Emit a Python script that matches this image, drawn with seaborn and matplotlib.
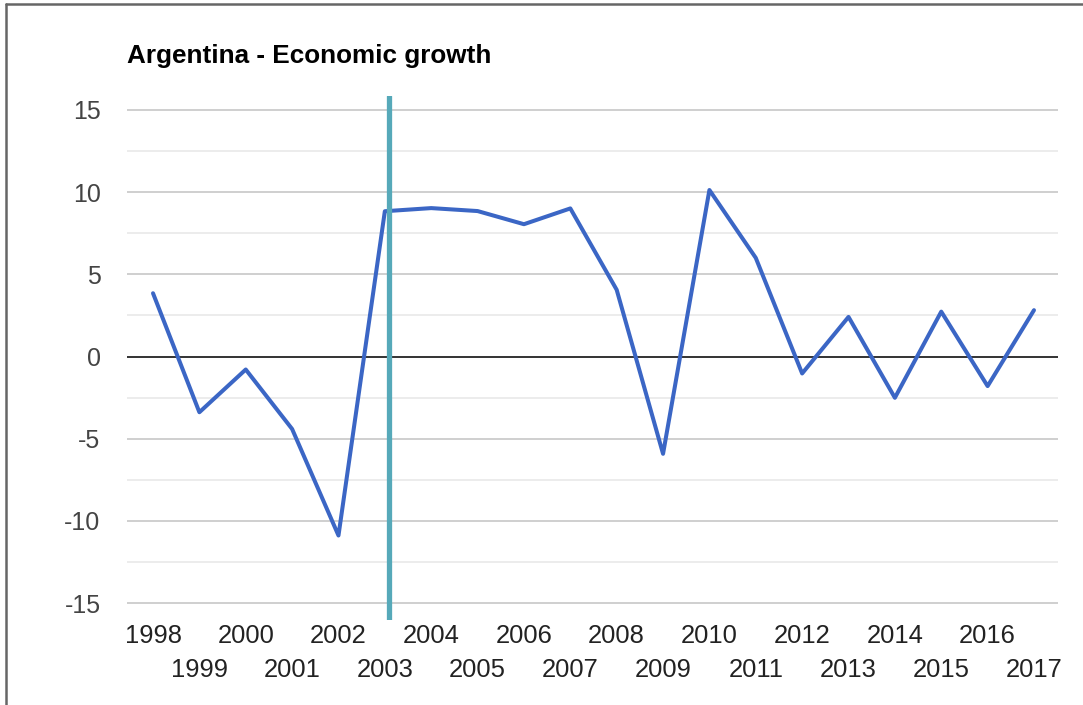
import matplotlib
matplotlib.use("Agg")
import matplotlib.pyplot as plt
from matplotlib.lines import Line2D
import numpy as np
import pandas as pd
import seaborn as sns

# Annual GDP growth, Argentina (%)
years = [1998, 1999, 2000, 2001, 2002, 2003, 2004, 2005, 2006, 2007,
         2008, 2009, 2010, 2011, 2012, 2013, 2014, 2015, 2016, 2017]
growth = [3.85, -3.39, -0.79, -4.41, -10.89, 8.84, 9.03, 8.85, 8.05, 9.01,
          4.06, -5.92, 10.13, 6.00, -1.03, 2.41, -2.51, 2.73, -1.80, 2.82]
marker_year = 2003.08
title_text = "Argentina - Economic growth"

sns.set_theme(style="white")
plt.rcParams["font.family"] = ["Liberation Sans", "DejaVu Sans"]

df = pd.DataFrame({"year": years, "growth": growth})

fig = plt.figure(figsize=(10.83, 7.05), dpi=100)
ax = fig.add_axes([127 / 1083, 85 / 705, 931 / 1083, 524 / 705])

# Horizontal gridlines: major every 5, lighter ones in between
for v in np.arange(-15, 15.1, 5):
    if v != 0:
        ax.axhline(v, color="#cccccc", lw=1.3, zorder=0)
for v in np.arange(-12.5, 12.6, 5):
    ax.axhline(v, color="#ebebeb", lw=1.3, zorder=0)
ax.axhline(0, color="#333333", lw=1.4, zorder=1)

sns.lineplot(data=df, x="year", y="growth", ax=ax, color="#3b66c5",
             lw=2.9, zorder=3)
ax.axvline(marker_year, color="#56a9b9", lw=3.8, zorder=4)

ax.set_xlim(1997.439, 2017.518)
ax.set_ylim(-16.03, 15.85)
ax.set_xlabel("")
ax.set_ylabel("")
for s in ax.spines.values():
    s.set_visible(False)

ax.set_yticks([-15, -10, -5, 0, 5, 10, 15])
ax.set_yticklabels(["-15", "-10", "-5", "0", "5", "10", "15"])
ax.tick_params(axis="y", length=0, pad=19, labelsize=18, labelcolor="#444444")

ax.set_xticks(years[0::2])
ax.set_xticklabels([str(y) for y in years[0::2]])
ax.set_xticks(years[1::2], minor=True)
ax.set_xticklabels([str(y) for y in years[1::2]], minor=True)
ax.tick_params(axis="x", which="major", length=0, pad=3, labelsize=18.4,
               labelcolor="#222222")
ax.tick_params(axis="x", which="minor", length=0, pad=27.5, labelsize=18.4,
               labelcolor="#222222")

fig.text(127 / 1083, 1 - 63 / 705, title_text, fontsize=18.8, fontweight="bold",
         color="#000000", ha="left", va="baseline")

# Outer frame on the top and left
fig.add_artist(Line2D([6 / 1083, 1], [1 - 4 / 705, 1 - 4 / 705],
                      transform=fig.transFigure, color="#666666", lw=1.8))
fig.add_artist(Line2D([6 / 1083, 6 / 1083], [0, 1 - 4 / 705],
                      transform=fig.transFigure, color="#666666", lw=1.8))

fig.savefig("out.png", dpi=100)
